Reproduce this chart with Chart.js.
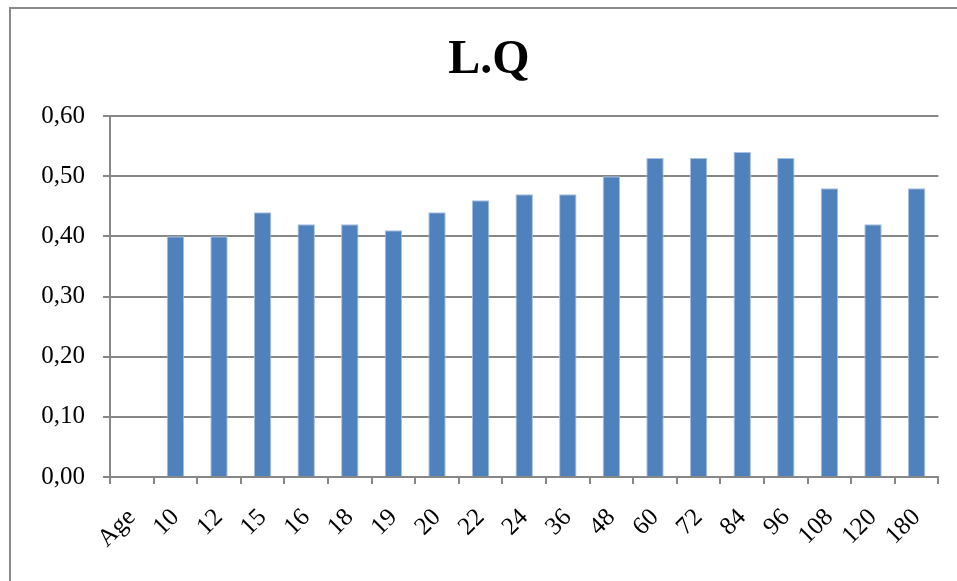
<!DOCTYPE html>
<html>
<head>
<meta charset="utf-8">
<script src="https://cdn.jsdelivr.net/npm/chart.js@4/dist/chart.umd.min.js"></script>
<style>
  html, body { margin: 0; padding: 0; background: #ffffff; }
  #wrap { width: 957px; height: 581px; }
</style>
</head>
<body>
<div id="wrap"><canvas id="chart" width="957" height="581"></canvas></div>
<script>
// Age groups along the x axis (first slot is the axis caption, no bar)
const categories = ['Age', '10', '12', '15', '16', '18', '19', '20', '22', '24', '36', '48', '60', '72', '84', '96', '108', '120', '180'];
// L.Q value for each age group
const lqValues = [null, 0.40, 0.40, 0.44, 0.42, 0.42, 0.41, 0.44, 0.46, 0.47, 0.47, 0.50, 0.53, 0.53, 0.54, 0.53, 0.48, 0.42, 0.48];
// Value axis ticks
const yTicks = [0, 0.1, 0.2, 0.3, 0.4, 0.5, 0.6];
const chartTitle = 'L.Q';

const serif = "'Liberation Serif', 'Times New Roman', serif";
const axisGrey = '#878787';

// Frame around the chart (open on the right and bottom edges) and the title
const framePlugin = {
  id: 'frame',
  beforeDraw(chart) {
    const ctx = chart.ctx;
    ctx.save();
    ctx.fillStyle = '#ffffff';
    ctx.fillRect(0, 0, chart.width, chart.height);
    ctx.strokeStyle = '#8a8a8a';
    ctx.lineWidth = 2;
    ctx.beginPath();
    ctx.moveTo(10, chart.height);
    ctx.lineTo(10, 8);
    ctx.lineTo(chart.width, 8);
    ctx.stroke();

    ctx.fillStyle = '#000000';
    ctx.font = 'bold 48px ' + serif;
    ctx.textAlign = 'center';
    ctx.textBaseline = 'alphabetic';
    ctx.fillText(chartTitle, 489, 73);
    ctx.restore();
  }
};

new Chart(document.getElementById('chart'), {
  type: 'bar',
  data: {
    labels: categories,
    datasets: [{
      label: chartTitle,
      data: lqValues,
      backgroundColor: '#4f81bd',
      borderColor: '#a9c0de',
      borderWidth: 1,
      barPercentage: 0.4,
      categoryPercentage: 1.0
    }]
  },
  options: {
    responsive: false,
    animation: false,
    devicePixelRatio: 1,
    layout: { padding: { left: 10, right: 6, top: 116, bottom: 0 } },
    plugins: {
      legend: { display: false },
      tooltip: { enabled: false },
      title: { display: false }
    },
    scales: {
      x: {
        grid: {
          offset: true,
          drawOnChartArea: false,
          drawTicks: true,
          tickLength: 7,
          color: axisGrey,
          lineWidth: 2
        },
        border: { color: axisGrey, width: 2 },
        ticks: {
          color: '#000000',
          font: { family: serif, size: 25 },
          maxRotation: 45,
          minRotation: 45,
          padding: 19,
          autoSkip: false
        },
        afterFit(scale) { scale.height = 104; }
      },
      y: {
        min: 0,
        max: 0.6,
        afterBuildTicks(scale) { scale.ticks = yTicks.map(v => ({ value: v })); },
        grid: {
          color: axisGrey,
          lineWidth: 2,
          drawTicks: true,
          tickLength: 7
        },
        border: { color: axisGrey, width: 2 },
        ticks: {
          color: '#000000',
          font: { family: serif, size: 25 },
          padding: 18,
          callback: v => v.toFixed(2).replace('.', ',')
        },
        afterFit(scale) { scale.width = 100; }
      }
    }
  },
  plugins: [framePlugin]
});
</script>
</body>
</html>
